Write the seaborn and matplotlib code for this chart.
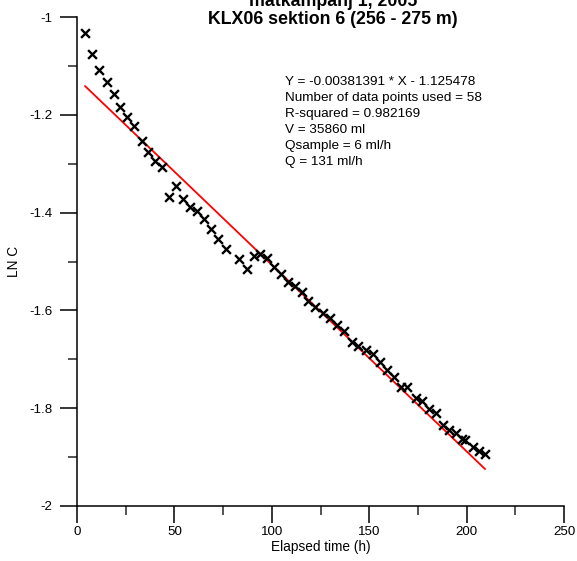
import matplotlib
matplotlib.use("Agg")
import matplotlib.pyplot as plt
import seaborn as sns
import numpy as np
import pandas as pd

# ---- data ----
elapsed_h = [4.1, 7.9, 11.3, 15.3, 18.8, 22.2, 25.7, 29.4, 33.2, 36.6,
             40.0, 43.8, 47.4, 50.8, 54.6, 58.0, 61.8, 65.2, 68.8, 72.5,
             76.3, 83.3, 87.1, 90.7, 94.1, 97.5, 101.1, 104.6, 108.5, 111.9,
             115.4, 118.7, 122.2, 126.1, 129.9, 133.3, 137.3, 141.2, 144.5, 148.3,
             151.8, 155.5, 159.3, 162.7, 166.2, 169.6, 174.0, 177.0, 180.7, 184.3,
             188.0, 191.1, 194.6, 197.5, 199.2, 203.1, 206.5, 209.5]
ln_c = [-1.033, -1.076, -1.108, -1.132, -1.158, -1.185, -1.204, -1.223, -1.253, -1.276,
        -1.294, -1.307, -1.369, -1.345, -1.373, -1.388, -1.396, -1.413, -1.434, -1.454,
        -1.475, -1.494, -1.515, -1.489, -1.485, -1.492, -1.511, -1.526, -1.542, -1.550,
        -1.562, -1.580, -1.593, -1.605, -1.616, -1.629, -1.643, -1.664, -1.672, -1.681,
        -1.689, -1.705, -1.722, -1.736, -1.756, -1.756, -1.780, -1.785, -1.802, -1.809,
        -1.834, -1.845, -1.851, -1.862, -1.865, -1.879, -1.887, -1.894]

slope = -0.00381391
intercept = -1.125478

title_lines = ["mätkampanj 1, 2005", "KLX06 sektion 6 (256 - 275 m)"]
info_lines = ["Y = -0.00381391 * X - 1.125478",
              "Number of data points used = 58",
              "R-squared = 0.982169",
              "V = 35860 ml",
              "Qsample = 6 ml/h",
              "Q = 131 ml/h"]
x_ticks = [0, 50, 100, 150, 200, 250]
y_ticks = [-2, -1.8, -1.6, -1.4, -1.2, -1]
y_ticklabels = ["-2", "-1.8", "-1.6", "-1.4", "-1.2", "-1"]

# ---- style ----
sns.set_theme(style="ticks")
plt.rcParams['font.family'] = ['Liberation Sans', 'DejaVu Sans']
plt.rcParams['axes.linewidth'] = 1.1

W, H = 577, 561
fig = plt.figure(figsize=(W / 100, H / 100), dpi=100)
fig.patch.set_facecolor("white")

def fx(px):
    return px / W

def fy(py):
    return 1 - py / H

ax = fig.add_axes([fx(77), fy(506), fx(564) - fx(77), fy(17) - fy(506)])
ax.set_facecolor("white")

df = pd.DataFrame({"t": elapsed_h, "lnc": ln_c})
fit_x = np.array([min(elapsed_h), max(elapsed_h)])
fit_df = pd.DataFrame({"t": fit_x, "lnc": slope * fit_x + intercept})

sns.lineplot(data=fit_df, x="t", y="lnc", color="#ff0000", linewidth=1.3, ax=ax)
sns.scatterplot(data=df, x="t", y="lnc", marker="x", color="black", s=40,
                linewidth=1.7, ax=ax, zorder=3)

ax.set_xlim(0, 250)
ax.set_ylim(-2, -1)
ax.set_xticks(x_ticks)
ax.set_xticks([25, 75, 125, 175, 225], minor=True)
ax.set_yticks(y_ticks)
ax.set_yticklabels(y_ticklabels)
ax.set_yticks([-1.9, -1.7, -1.5, -1.3, -1.1], minor=True)
ax.tick_params(axis="both", which="major", direction="out", length=12.5, width=1.1,
               labelsize=9.6, colors="black")
ax.tick_params(axis="y", which="major", pad=5)
ax.tick_params(axis="x", which="major", pad=2)
ax.tick_params(axis="both", which="minor", direction="out", length=6.5, width=1.1)
for side in ["top", "right"]:
    ax.spines[side].set_visible(False)
for side in ["left", "bottom"]:
    ax.spines[side].set_color("black")

ax.set_xlabel("Elapsed time (h)", fontsize=9.8, labelpad=1, color="black")
ax.set_ylabel("LN C", fontsize=9.8, labelpad=6, color="black")

# titles (first line is clipped by the top edge, as in the reference)
fig.text(fx(333), fy(6), title_lines[0], ha="center", va="baseline",
         fontsize=12.8, fontweight="bold", color="black")
fig.text(fx(333), fy(24), title_lines[1], ha="center", va="baseline",
         fontsize=12.8, fontweight="bold", color="black")

# info block
for i, line in enumerate(info_lines):
    fig.text(fx(285), fy(82 + 16 * i), line, ha="left", va="center",
             fontsize=9.7, color="black")

fig.savefig("out.png", dpi=100, facecolor="white")
